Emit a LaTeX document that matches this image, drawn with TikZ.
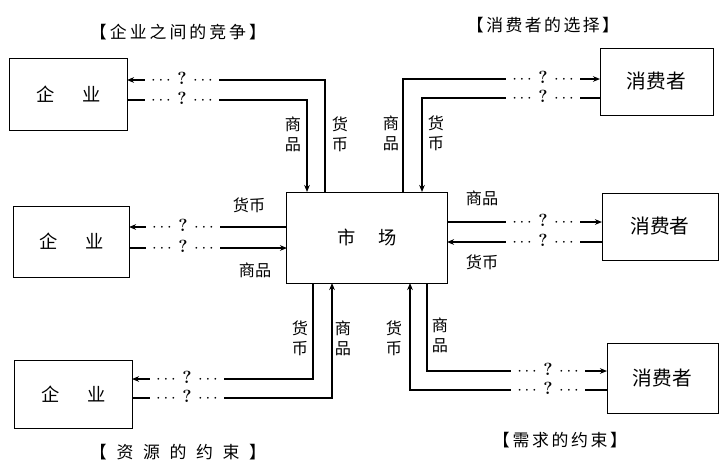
\documentclass[tikz,border=0pt]{standalone}
\usepackage{fontspec}
\newfontfamily\cjk{Noto Sans CJK SC}
\usetikzlibrary{arrows.meta}
\newcommand{\qmark}{$\cdots$\hspace{0.16cm}\textbf{?}\hspace{0.16cm}$\cdots$}
\newcommand{\spaced}[2]{\makebox[#1][s]{#2}}
\begin{document}
\begin{tikzpicture}[x=0.025cm,y=-0.025cm,
  box/.style={draw,line width=0.7pt,inner sep=0pt,outer sep=0pt,font=\cjk\fontsize{13}{15}\selectfont},
  cbox/.style={box,font=\cjk\fontsize{14}{16}\selectfont},
  flow/.style={line width=0.8pt,-{Stealth[length=5pt,width=4pt]}},
  qm/.style={fill=white,inner sep=0pt,text height=1.5ex,text depth=0pt,minimum width=1.85cm,font=\fontsize{12.5}{14}\selectfont},
  lab/.style={inner sep=0pt,font=\cjk\fontsize{11.5}{14}\selectfont,align=center},
  captxt/.style={inner sep=0pt,font=\cjk\fontsize{12}{14}\selectfont}]
\fill[white] (0,0) rectangle (721,468);
\useasboundingbox (0,0) rectangle (721,468);

% boxes
\node[box,minimum width=2.925cm,minimum height=1.8cm] (f1) at (68.5,94) {企\hspace{0.69cm}业};
\node[box,minimum width=2.875cm,minimum height=1.775cm] (f2) at (71.5,241.5) {企\hspace{0.69cm}业};
\node[box,minimum width=2.925cm,minimum height=1.7cm] (f3) at (73.5,394) {企\hspace{0.69cm}业};
\node[box,minimum width=4cm,minimum height=2.275cm] (m) at (367,237.5) {市\hspace{0.57cm}场};
\node[cbox,minimum width=2.825cm,minimum height=1.675cm] (c1) at (656.5,81.5) {消费者};
\node[cbox,minimum width=2.9cm,minimum height=1.675cm] (c2) at (660,226.5) {消费者};
\node[cbox,minimum width=2.775cm,minimum height=1.75cm] (c3) at (662.5,378) {消费者};

% corner coordinates
\coordinate (a1) at (325,80);
\coordinate (a2) at (307,100);
\coordinate (b1) at (200,227);
\coordinate (b2) at (200,248);
\coordinate (d1) at (313,379);
\coordinate (d2) at (332,398);
\coordinate (e1) at (403,79);
\coordinate (e2) at (422,98);
\coordinate (g1) at (500,222);
\coordinate (g2) at (500,242);
\coordinate (h1) at (427,371);
\coordinate (h2) at (410,390);

% connectors
\draw[flow] (a1 |- m.north) -- (a1) -- (a1 -| f1.east);
\draw[flow] (a2 -| f1.east) -- (a2) -- (a2 |- m.north);
\draw[flow] (b1 -| m.west) -- (b1 -| f2.east);
\draw[flow] (b2 -| f2.east) -- (b2 -| m.west);
\draw[flow] (d1 |- m.south) -- (d1) -- (d1 -| f3.east);
\draw[flow] (d2 -| f3.east) -- (d2) -- (d2 |- m.south);
\draw[flow] (e1 |- m.north) -- (e1) -- (e1 -| c1.west);
\draw[flow] (e2 -| c1.west) -- (e2) -- (e2 |- m.north);
\draw[flow] (g1 -| m.east) -- (g1 -| c2.west);
\draw[flow] (g2 -| c2.west) -- (g2 -| m.east);
\draw[flow] (h1 |- m.south) -- (h1) -- (h1 -| c3.west);
\draw[flow] (h2 -| c3.west) -- (h2) -- (h2 |- m.south);

% question marks
\node[qm] (q1) at (182,80) {\qmark};
\node[qm] (q2) at (182,100) {\qmark};
\node[qm] (q3) at (183,227) {\qmark};
\node[qm] (q4) at (183,248) {\qmark};
\node[qm] (q5) at (187,379) {\qmark};
\node[qm] (q6) at (187,398) {\qmark};
\node[qm] (q7) at (543,79) {\qmark};
\node[qm] (q8) at (543,98) {\qmark};
\node[qm] (q9) at (543,222) {\qmark};
\node[qm] (q10) at (543,242) {\qmark};
\node[qm] (q11) at (548,371) {\qmark};
\node[qm] (q12) at (548,390) {\qmark};

% labels
\node[lab] (l1) at (293,134) {商\\品};
\node[lab] (l2) at (340,134) {货\\币};
\node[lab] (l3) at (249,205) {货币};
\node[lab] (l4) at (255,270) {商品};
\node[lab] (l5) at (391,133) {商\\品};
\node[lab] (l6) at (436,133) {货\\币};
\node[lab] (l7) at (482,198) {商品};
\node[lab] (l8) at (482,262) {货币};
\node[lab] (l9) at (300,338) {货\\币};
\node[lab] (l10) at (343,338) {商\\品};
\node[lab] (l11) at (394,338) {货\\币};
\node[lab] (l12) at (440,335) {商\\品};

% captions
\node[captxt] (t1) at (178,32) {\spaced{4.4cm}{【\hfil 企\hfil 业\hfil 之\hfil 间\hfil 的\hfil 竞\hfil 争\hfil 】}};
\node[captxt] (t2) at (543,25) {\spaced{3.8cm}{【\hfil 消\hfil 费\hfil 者\hfil 的\hfil 选\hfil 择\hfil 】}};
\node[captxt] (t3) at (178,452) {\spaced{4.4cm}{【\hfil 资\hfil 源\hfil 的\hfil 约\hfil 束\hfil 】}};
\node[captxt] (t4) at (560,440) {\spaced{3.35cm}{【\hfil 需\hfil 求\hfil 的\hfil 约\hfil 束\hfil 】}};
\end{tikzpicture}
\end{document}
